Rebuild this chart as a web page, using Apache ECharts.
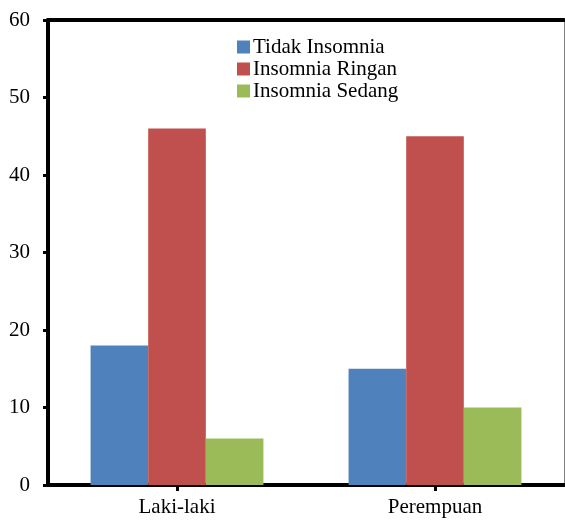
<!DOCTYPE html>
<html>
<head>
<meta charset="utf-8">
<script src="https://cdn.jsdelivr.net/npm/echarts@6/dist/echarts.min.js"></script>
<style>
  html, body { margin: 0; padding: 0; background: #fff; }
  #chart { width: 565px; height: 520px; }
</style>
</head>
<body>
<div id="chart"></div>
<script>
// Jumlah responden menurut jenis kelamin dan tingkat insomnia
const categories = ['Laki-laki', 'Perempuan'];
const seriesNames = ['Tidak Insomnia', 'Insomnia Ringan', 'Insomnia Sedang'];
const tidakInsomnia = [18, 15];
const insomniaRingan = [46, 45];
const insomniaSedang = [6, 10];
const colors = ['#4F81BD', '#C0504D', '#9BBB59'];

const font = '"Liberation Serif", "Times New Roman", serif';
const values = [tidakInsomnia, insomniaRingan, insomniaSedang];

const chart = echarts.init(document.getElementById('chart'));
chart.setOption({
  animation: false,
  textStyle: { fontFamily: font },
  grid: { left: 48, right: 1, top: 20, bottom: 35, containLabel: false },
  legend: {
    orient: 'vertical',
    left: 232,
    top: 31,
    itemWidth: 13,
    itemHeight: 13,
    itemGap: 0,
    icon: 'rect',
    textStyle: { fontFamily: font, fontSize: 21, lineHeight: 22, color: '#000', padding: [0, 0, 0, -2] },
    data: seriesNames
  },
  xAxis: [{
    type: 'category',
    data: categories,
    axisLine: { lineStyle: { color: '#000', width: 4 } },
    axisTick: { show: true, alignWithLabel: true, length: 6, lineStyle: { color: '#000', width: 3 } },
    axisLabel: { fontFamily: font, fontSize: 21, color: '#000', margin: 12 }
  }, {
    type: 'category',
    position: 'top',
    data: categories,
    axisLine: { onZero: false, lineStyle: { color: '#000', width: 4 } },
    axisTick: { show: false },
    axisLabel: { show: false }
  }],
  yAxis: [{
    type: 'value',
    min: 0,
    max: 60,
    interval: 10,
    splitLine: { show: false },
    axisLine: { show: true, lineStyle: { color: '#000', width: 4 } },
    axisTick: { show: true, length: 5, lineStyle: { color: '#000', width: 3 } },
    axisLabel: { fontFamily: font, fontSize: 21, color: '#000', margin: 18 }
  }, {
    type: 'value',
    position: 'right',
    min: 0,
    max: 60,
    interval: 10,
    splitLine: { show: false },
    axisLine: { show: true, onZero: false, lineStyle: { color: '#808080', width: 1 } },
    axisTick: { show: false },
    axisLabel: { show: false }
  }],
  series: seriesNames.map((name, i) => ({
    name: name,
    type: 'bar',
    data: values[i],
    barGap: '0%',
    barCategoryGap: '33%',
    itemStyle: { color: colors[i] }
  }))
});
</script>
</body>
</html>
